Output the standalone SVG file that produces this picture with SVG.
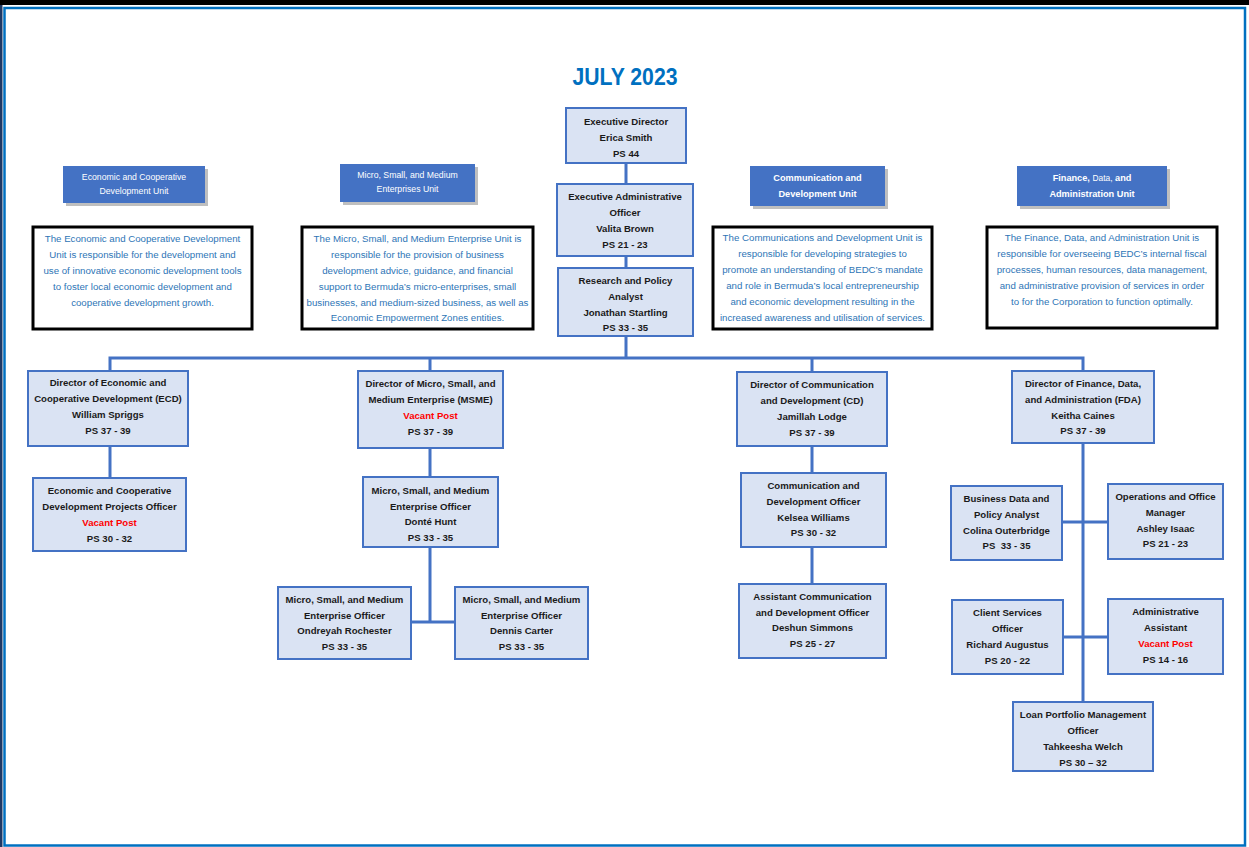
<svg xmlns="http://www.w3.org/2000/svg" width="1249" height="847" viewBox="0 0 1249 847">
<style>
.bx{fill:#DAE3F3;stroke:#4472C4;stroke-width:2}
.t{font-family:"Liberation Sans",Arial,sans-serif;font-size:9.6px;font-weight:bold;fill:#1a1a1a;text-anchor:middle}
.v{fill:#FF0000}
.uh{fill:#4472C4}
.sh{fill:#BFBFBF}
.ut{font-family:"Liberation Sans",Arial,sans-serif;font-size:8.7px;fill:#FFFFFF;text-anchor:middle}
.utb{font-family:"Liberation Sans",Arial,sans-serif;font-size:9.2px;font-weight:bold;fill:#FFFFFF;text-anchor:middle}
.db{fill:#FFFFFF;stroke:#000000;stroke-width:3}
.dt{font-family:"Liberation Sans",Arial,sans-serif;font-size:9.7px;fill:#2E75B6;text-anchor:middle}
.c{fill:none;stroke:#4472C4;stroke-width:3}
</style>
<rect x="0" y="0" width="1249" height="847" fill="#FFFFFF"/>
<rect x="0" y="0" width="1249" height="5" fill="#000000"/>
<rect x="0" y="5" width="2.5" height="842" fill="#1F3864"/>
<rect x="4.5" y="8" width="1240.5" height="837.5" fill="none" stroke="#0070C0" stroke-width="2.5"/>
<text x="625" y="85" font-family="Liberation Sans,Arial,sans-serif" font-size="24" font-weight="bold" fill="#0070C0" text-anchor="middle" textLength="105" lengthAdjust="spacingAndGlyphs">JULY 2023</text>

<g id="connectors">
<path class="c" d="M626,163V184M626,256V268M626,336V358"/>
<path class="c" d="M110,371V358H1083V371M430,358V371M812,358V372"/>
<path class="c" d="M110,446V478"/>
<path class="c" d="M430,448V477M430,547V622M411,622H455"/>
<path class="c" d="M812,446V473M812,547V584"/>
<path class="c" d="M1083,443V702M1062,522H1108M1063,637H1108"/>
</g>

<g id="unit-ecd">
<rect class="sh" x="66" y="169" width="142" height="37"/>
<rect class="uh" x="63" y="166" width="142" height="37"/>
<text class="ut" x="134" y="180">Economic and Cooperative</text>
<text class="ut" x="134" y="194">Development Unit</text>
</g>
<g id="unit-msme">
<rect class="sh" x="343" y="167" width="135" height="38"/>
<rect class="uh" x="340" y="164" width="135" height="38"/>
<text class="ut" x="407.5" y="178">Micro, Small, and Medium</text>
<text class="ut" x="407.5" y="192">Enterprises Unit</text>
</g>
<g id="unit-cd">
<rect class="sh" x="753" y="169" width="135" height="40"/>
<rect class="uh" x="750" y="166" width="135" height="40"/>
<text class="utb" x="817.5" y="181">Communication and</text>
<text class="utb" x="817.5" y="197">Development Unit</text>
</g>
<g id="unit-fda">
<rect class="sh" x="1020" y="169" width="150" height="40"/>
<rect class="uh" x="1017" y="166" width="150" height="40"/>
<text class="utb" x="1092" y="181">Finance, <tspan font-weight="normal" font-size="8.4px">Data,</tspan> and</text>
<text class="utb" x="1092" y="197">Administration Unit</text>
</g>

<g id="desc-ecd">
<rect class="db" x="33" y="227" width="219" height="102"/>
<text class="dt" x="142.5" y="242">The Economic and Cooperative Development</text>
<text class="dt" x="142.5" y="258">Unit is responsible for the development and</text>
<text class="dt" x="142.5" y="274">use of innovative economic development tools</text>
<text class="dt" x="142.5" y="290">to foster local economic development and</text>
<text class="dt" x="142.5" y="306">cooperative development growth.</text>
</g>
<g id="desc-msme">
<rect class="db" x="302" y="227" width="231" height="102"/>
<text class="dt" x="417.5" y="242">The Micro, Small, and Medium Enterprise Unit is</text>
<text class="dt" x="417.5" y="258">responsible for the provision of business</text>
<text class="dt" x="417.5" y="274">development advice, guidance, and financial</text>
<text class="dt" x="417.5" y="290">support to Bermuda’s micro-enterprises, small</text>
<text class="dt" x="417.5" y="306">businesses, and medium-sized business, as well as</text>
<text class="dt" x="417.5" y="321">Economic Empowerment Zones entities.</text>
</g>
<g id="desc-cd">
<rect class="db" x="713" y="227" width="219" height="102"/>
<text class="dt" x="822.5" y="241">The Communications and Development Unit is</text>
<text class="dt" x="822.5" y="257">responsible for developing strategies to</text>
<text class="dt" x="822.5" y="273">promote an understanding of BEDC’s mandate</text>
<text class="dt" x="822.5" y="289">and role in Bermuda’s local entrepreneurship</text>
<text class="dt" x="822.5" y="305">and economic development resulting in the</text>
<text class="dt" x="822.5" y="321">increased awareness and utilisation of services.</text>
</g>
<g id="desc-fda">
<rect class="db" x="987" y="227" width="230" height="101"/>
<text class="dt" x="1102" y="241">The Finance, Data, and Administration Unit is</text>
<text class="dt" x="1102" y="257">responsible for overseeing BEDC’s internal fiscal</text>
<text class="dt" x="1102" y="273">processes, human resources, data management,</text>
<text class="dt" x="1102" y="289">and administrative provision of services in order</text>
<text class="dt" x="1102" y="305">to for the Corporation to function optimally.</text>
</g>

<g id="exec-director">
<rect class="bx" x="566" y="108" width="120" height="55"/>
<text class="t" x="626" y="124.5">Executive Director</text>
<text class="t" x="626" y="140.5">Erica Smith</text>
<text class="t" x="626" y="156.5">PS 44</text>
</g>
<g id="exec-admin-officer">
<rect class="bx" x="557" y="184" width="136" height="72"/>
<text class="t" x="625" y="199.5">Executive Administrative</text>
<text class="t" x="625" y="215.5">Officer</text>
<text class="t" x="625" y="231.5">Valita Brown</text>
<text class="t" x="625" y="247.5">PS 21 - 23</text>
</g>
<g id="research-analyst">
<rect class="bx" x="558" y="268" width="135" height="68"/>
<text class="t" x="625.5" y="283.5">Research and Policy</text>
<text class="t" x="625.5" y="299.5">Analyst</text>
<text class="t" x="625.5" y="315.5">Jonathan Startling</text>
<text class="t" x="625.5" y="330.5">PS 33 - 35</text>
</g>

<g id="dir-ecd">
<rect class="bx" x="28" y="371" width="160" height="75"/>
<text class="t" x="108" y="385.5">Director of Economic and</text>
<text class="t" x="108" y="401.5">Cooperative Development (ECD)</text>
<text class="t" x="108" y="417.5">William Spriggs</text>
<text class="t" x="108" y="433.5">PS 37 - 39</text>
</g>
<g id="ecd-projects-officer">
<rect class="bx" x="33" y="478" width="153" height="73"/>
<text class="t" x="109.5" y="493.5">Economic and Cooperative</text>
<text class="t" x="109.5" y="509.5">Development Projects Officer</text>
<text class="t v" x="109.5" y="525.5">Vacant Post</text>
<text class="t" x="109.5" y="541.5">PS 30 - 32</text>
</g>

<g id="dir-msme">
<rect class="bx" x="358" y="371" width="145" height="77"/>
<text class="t" x="430.5" y="386.5">Director of Micro, Small, and</text>
<text class="t" x="430.5" y="402.5">Medium Enterprise (MSME)</text>
<text class="t v" x="430.5" y="418.5">Vacant Post</text>
<text class="t" x="430.5" y="434.5">PS 37 - 39</text>
</g>
<g id="msme-officer-hunt">
<rect class="bx" x="363" y="477" width="135" height="70"/>
<text class="t" x="430.5" y="493.5">Micro, Small, and Medium</text>
<text class="t" x="430.5" y="509.5">Enterprise Officer</text>
<text class="t" x="430.5" y="524.5">Donté Hunt</text>
<text class="t" x="430.5" y="540.5">PS 33 - 35</text>
</g>
<g id="msme-officer-rochester">
<rect class="bx" x="278" y="587" width="133" height="72"/>
<text class="t" x="344.5" y="602.5">Micro, Small, and Medium</text>
<text class="t" x="344.5" y="618.5">Enterprise Officer</text>
<text class="t" x="344.5" y="633.5">Ondreyah Rochester</text>
<text class="t" x="344.5" y="649.5">PS 33 - 35</text>
</g>
<g id="msme-officer-carter">
<rect class="bx" x="455" y="587" width="133" height="72"/>
<text class="t" x="521.5" y="602.5">Micro, Small, and Medium</text>
<text class="t" x="521.5" y="618.5">Enterprise Officer</text>
<text class="t" x="521.5" y="633.5">Dennis Carter</text>
<text class="t" x="521.5" y="649.5">PS 33 - 35</text>
</g>

<g id="dir-cd">
<rect class="bx" x="737" y="372" width="150" height="74"/>
<text class="t" x="812" y="387.5">Director of Communication</text>
<text class="t" x="812" y="403.5">and Development (CD)</text>
<text class="t" x="812" y="419.5">Jamillah Lodge</text>
<text class="t" x="812" y="435.5">PS 37 - 39</text>
</g>
<g id="comm-officer">
<rect class="bx" x="741" y="473" width="145" height="74"/>
<text class="t" x="813.5" y="488.5">Communication and</text>
<text class="t" x="813.5" y="504.5">Development Officer</text>
<text class="t" x="813.5" y="520.5">Kelsea Williams</text>
<text class="t" x="813.5" y="535.5">PS 30 - 32</text>
</g>
<g id="asst-comm-officer">
<rect class="bx" x="739" y="584" width="147" height="74"/>
<text class="t" x="812.5" y="599.5">Assistant Communication</text>
<text class="t" x="812.5" y="615.5">and Development Officer</text>
<text class="t" x="812.5" y="630.5">Deshun Simmons</text>
<text class="t" x="812.5" y="646.5">PS 25 - 27</text>
</g>

<g id="dir-fda">
<rect class="bx" x="1012" y="371" width="142" height="72"/>
<text class="t" x="1083" y="386.5">Director of Finance, Data,</text>
<text class="t" x="1083" y="402.5">and Administration (FDA)</text>
<text class="t" x="1083" y="418.5">Keitha Caines</text>
<text class="t" x="1083" y="433.5">PS 37 - 39</text>
</g>
<g id="business-data-analyst">
<rect class="bx" x="951" y="486" width="111" height="74"/>
<text class="t" x="1006.5" y="501.5">Business Data and</text>
<text class="t" x="1006.5" y="517.5">Policy Analyst</text>
<text class="t" x="1006.5" y="533.5">Colina Outerbridge</text>
<text class="t" x="1006.5" y="548.5" xml:space="preserve">PS  33 - 35</text>
</g>
<g id="ops-office-manager">
<rect class="bx" x="1108" y="484" width="115" height="75"/>
<text class="t" x="1165.5" y="499.5">Operations and Office</text>
<text class="t" x="1165.5" y="515.5">Manager</text>
<text class="t" x="1165.5" y="531.5">Ashley Isaac</text>
<text class="t" x="1165.5" y="546.5">PS 21 - 23</text>
</g>
<g id="client-services-officer">
<rect class="bx" x="952" y="600" width="111" height="74"/>
<text class="t" x="1007.5" y="615.5">Client Services</text>
<text class="t" x="1007.5" y="631.5">Officer</text>
<text class="t" x="1007.5" y="647.5">Richard Augustus</text>
<text class="t" x="1007.5" y="663.5">PS 20 - 22</text>
</g>
<g id="admin-assistant">
<rect class="bx" x="1108" y="599" width="115" height="75"/>
<text class="t" x="1165.5" y="614.5">Administrative</text>
<text class="t" x="1165.5" y="630.5">Assistant</text>
<text class="t v" x="1165.5" y="646.5">Vacant Post</text>
<text class="t" x="1165.5" y="662.5">PS 14 - 16</text>
</g>
<g id="loan-portfolio-officer">
<rect class="bx" x="1013" y="702" width="140" height="69"/>
<text class="t" x="1083" y="717.5">Loan Portfolio Management</text>
<text class="t" x="1083" y="733.5">Officer</text>
<text class="t" x="1083" y="749.5">Tahkeesha Welch</text>
<text class="t" x="1083" y="765.5">PS 30 – 32</text>
</g>
</svg>
